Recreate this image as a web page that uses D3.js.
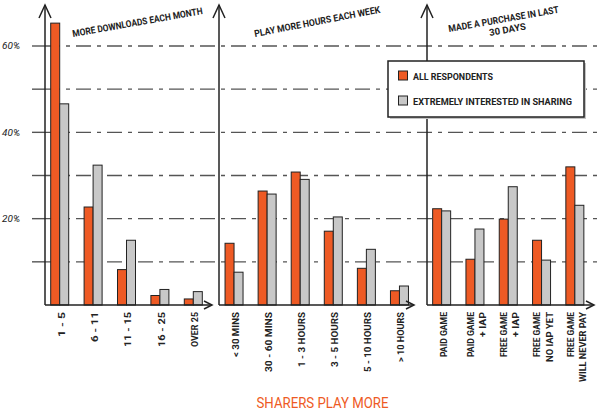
<!DOCTYPE html>
<html><head><meta charset="utf-8">
<script src="https://cdn.jsdelivr.net/npm/d3@7"></script>
<style>body{margin:0;background:#fff}svg{display:block}text{font-family:Roboto,"DejaVu Sans",sans-serif}</style>
</head><body>
<svg id="c" width="600" height="412"></svg>
<script>
// ---- data ----
const seriesNames = ["ALL RESPONDENTS", "EXTREMELY INTERESTED IN SHARING"];
const cats1 = [["1 - 5"], ["6 - 11"], ["11 - 15"], ["16 - 25"], ["OVER 25"]];
const all1 = [65.3, 22.7, 8.2, 2.2, 1.4];
const share1 = [46.6, 32.4, 15.0, 3.6, 3.1];
const cats2 = [["< 30 MINS"], ["30 - 60 MINS"], ["1 - 3 HOURS"], ["3 - 5 HOURS"], ["5 - 10 HOURS"], ["> 10 HOURS"]];
const all2 = [14.3, 26.4, 30.8, 17.1, 8.5, 3.3];
const share2 = [7.6, 25.7, 29.1, 20.4, 12.9, 4.4];
const cats3 = [["PAID GAME"], ["PAID GAME", "+ IAP"], ["FREE GAME", "+ IAP"], ["FREE GAME", "NO IAP YET"], ["FREE GAME", "WILL NEVER PAY"]];
const all3 = [22.3, 10.6, 19.9, 15.0, 32.0];
const share3 = [21.8, 17.6, 27.4, 10.4, 23.1];
const panelTitles = [["MORE DOWNLOADS EACH MONTH"], ["PLAY MORE HOURS EACH WEEK"], ["MADE A PURCHASE IN LAST", "30 DAYS"]];
const gridTicks = [10, 20, 30, 40, 50, 60];
const tickLabels = ["20%", "40%", "60%"];
const labeledTicks = [20, 40, 60];
const chartTitle = "SHARERS PLAY MORE";

// ---- style ----
const ORANGE = "#EE5A24", GRAY = "#C8C8C8", INK = "#222", GRID = "#555";
const svg = d3.select("#c");
const y = d3.scaleLinear().domain([0, 60]).range([305, 46]);
const base = y(0);

// grid lines (dashed) and left ticks
gridTicks.forEach(t => {
  svg.append("line").attr("x1", 45).attr("x2", 600).attr("y1", y(t)).attr("y2", y(t))
    .attr("stroke", GRID).attr("stroke-width", 1.4).attr("stroke-dasharray", "15,6,4,6");
  svg.append("line").attr("x1", 32).attr("x2", 45).attr("y1", y(t)).attr("y2", y(t))
    .attr("stroke", GRID).attr("stroke-width", 1.4);
});
labeledTicks.forEach((t, i) => {
  svg.append("text").attr("x", 20).attr("y", y(t)).attr("dy", "0.35em")
    .attr("text-anchor", "end").attr("font-size", 9.5).attr("font-style", "italic")
    .attr("fill", INK).attr("textLength", 18).attr("lengthAdjust", "spacingAndGlyphs")
    .text(tickLabels[i]);
});

const panels = [
  {cats: cats1, a: all1, s: share1, range: [43, 210], axisX: 45, xEnd: 212, title: panelTitles[0],
   tPos: [73, 37], tLen: [132], tRot: -10},
  {cats: cats2, a: all2, s: share2, range: [217.5, 416], axisX: 219, xEnd: 414, title: panelTitles[1],
   tPos: [255, 37], tLen: [128], tRot: -11},
  {cats: cats3, a: all3, s: share3, range: [425, 591.5], axisX: 427, xEnd: 594, title: panelTitles[2],
   tPos: [449, 32], tLen: [112, 37], tRot: -10}
];

panels.forEach(p => {
  const keys = p.cats.map(c => c.join(" "));
  const x = d3.scaleBand().domain(keys).range(p.range).paddingInner(0).paddingOuter(0);
  const bw = 9;
  const g = svg.append("g");
  keys.forEach((k, i) => {
    const cx = x(k) + x.bandwidth() / 2;
    g.append("rect").attr("x", cx - bw).attr("y", y(p.a[i])).attr("width", bw)
      .attr("height", base - y(p.a[i])).attr("fill", ORANGE).attr("stroke", INK).attr("stroke-width", 1);
    g.append("rect").attr("x", cx).attr("y", y(p.s[i])).attr("width", bw)
      .attr("height", base - y(p.s[i])).attr("fill", GRAY).attr("stroke", INK).attr("stroke-width", 1);
    const lines = p.cats[i];
    const n = lines.length;
    lines.forEach((ln, j) => {
      const lx = cx + 2 + (j - (n - 1) / 2) * 12.5;
      g.append("text").attr("transform", `translate(${lx},312) rotate(-90)`)
        .attr("text-anchor", "end").attr("dy", "0.35em").attr("font-size", 8.5)
        .attr("font-weight", "bold").attr("fill", INK)
        .attr("textLength", ln.length * 5.0).attr("lengthAdjust", "spacingAndGlyphs")
        .text(ln);
    });
  });
  // axes
  svg.append("line").attr("x1", p.axisX).attr("x2", p.axisX).attr("y1", base).attr("y2", 5)
    .attr("stroke", INK).attr("stroke-width", 1.5);
  svg.append("path").attr("d", `M${p.axisX - 6},18 L${p.axisX},5 L${p.axisX + 6},18`)
    .attr("fill", "none").attr("stroke", INK).attr("stroke-width", 1.5);
  svg.append("line").attr("x1", p.axisX).attr("x2", p.xEnd).attr("y1", base).attr("y2", base)
    .attr("stroke", INK).attr("stroke-width", 1.5);
  svg.append("path").attr("d", `M${p.xEnd - 8},${base - 4} L${p.xEnd},${base} L${p.xEnd - 8},${base + 4}`)
    .attr("fill", "none").attr("stroke", INK).attr("stroke-width", 1.5);
  // panel title
  const tg = svg.append("g").attr("transform", `translate(${p.tPos[0]},${p.tPos[1]}) rotate(${p.tRot})`);
  p.title.forEach((ln, j) => {
    const len = p.tLen[j];
    tg.append("text").attr("x", j === 0 ? 0 : (p.tLen[0] - len) / 2 + 2).attr("y", j * 11)
      .attr("font-size", 9.5).attr("font-weight", "bold").attr("fill", INK)
      .attr("textLength", len).attr("lengthAdjust", "spacingAndGlyphs").text(ln);
  });
});

// legend
const lg = svg.append("g");
lg.append("rect").attr("x", 390).attr("y", 63).attr("width", 196).attr("height", 56).attr("fill", "#c4c4c4");
lg.append("rect").attr("x", 388).attr("y", 61).attr("width", 196).attr("height", 56)
  .attr("fill", "#fff").attr("stroke", INK).attr("stroke-width", 1.5);
[ORANGE, GRAY].forEach((c, i) => {
  lg.append("rect").attr("x", 398.5).attr("y", 71 + i * 25).attr("width", 9).attr("height", 9)
    .attr("fill", c).attr("stroke", INK).attr("stroke-width", 1);
  lg.append("text").attr("x", 413).attr("y", 79.5 + i * 25).attr("font-size", 9)
    .attr("font-weight", "bold").attr("fill", INK)
    .attr("textLength", i === 0 ? 80 : 159).attr("lengthAdjust", "spacingAndGlyphs").text(seriesNames[i]);
});

// chart title
svg.append("text").attr("x", 322.5).attr("y", 408).attr("text-anchor", "middle")
  .attr("font-size", 15).attr("fill", ORANGE)
  .attr("textLength", 132).attr("lengthAdjust", "spacingAndGlyphs").text(chartTitle);
</script>
</body></html>
